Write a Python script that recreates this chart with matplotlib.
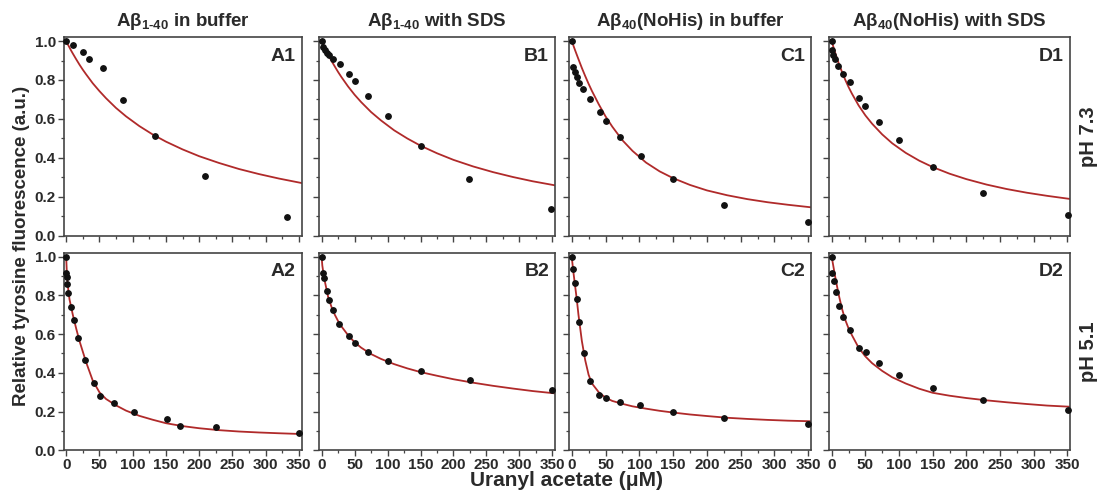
import matplotlib
matplotlib.use("Agg")
import matplotlib.pyplot as plt
from matplotlib.ticker import MultipleLocator

plt.rcParams['font.family'] = ['Liberation Sans', 'DejaVu Sans']
plt.rcParams['font.weight'] = 'bold'
plt.rcParams['mathtext.fontset'] = 'custom'
plt.rcParams['mathtext.rm'] = 'Liberation Sans:bold'
plt.rcParams['mathtext.it'] = 'Liberation Sans:bold'
plt.rcParams['mathtext.bf'] = 'Liberation Sans:bold'

# ---- data (uranyl acetate concentration in uM, relative fluorescence) ----
titles = ['Aβ$_{\\text{1-40}}$ in buffer', 'Aβ$_{\\text{1-40}}$ with SDS',
          'Aβ$_{\\text{40}}$(NoHis) in buffer', 'Aβ$_{\\text{40}}$(NoHis) with SDS']
row_labels = ['pH 7.3', 'pH 5.1']
panel_labels = [['A1', 'B1', 'C1', 'D1'], ['A2', 'B2', 'C2', 'D2']]

A1_x = [0, 11, 25, 35, 55, 85, 134, 209, 332]
A1_y = [1.0, 0.98, 0.945, 0.907, 0.863, 0.697, 0.512, 0.306, 0.094]
B1_x = [0, 2.5, 5, 8.5, 11.5, 17.5, 28, 41.5, 51, 71, 100, 150, 224, 348]
B1_y = [1.0, 0.97, 0.954, 0.94, 0.93, 0.909, 0.88, 0.83, 0.794, 0.72, 0.616, 0.462, 0.289, 0.135]
C1_x = [0, 2.5, 4.5, 7.5, 11.5, 17, 27.5, 41.5, 51, 71.5, 102, 150.5, 225, 350]
C1_y = [1.0, 0.868, 0.84, 0.813, 0.784, 0.755, 0.70, 0.636, 0.59, 0.508, 0.41, 0.292, 0.155, 0.071]
D1_x = [0, 1, 2.5, 5, 10, 17, 27, 40, 50, 70.5, 100, 150.5, 225.5, 351]
D1_y = [1.0, 0.952, 0.928, 0.906, 0.873, 0.832, 0.788, 0.708, 0.667, 0.584, 0.491, 0.351, 0.218, 0.105]

A2_x = [0, 0.3, 0.8, 1.5, 3.5, 7.5, 12, 18.5, 28.5, 41.5, 51, 71.5, 101.5, 151, 171.5, 226, 350]
A2_y = [1.0, 0.917, 0.897, 0.859, 0.811, 0.739, 0.671, 0.582, 0.465, 0.348, 0.282, 0.243, 0.199, 0.163, 0.124, 0.119, 0.091]
B2_x = [0, 1.5, 4, 7.5, 11, 17, 27, 41, 50.5, 70, 100.5, 150.5, 225, 350]
B2_y = [1.0, 0.917, 0.888, 0.824, 0.775, 0.723, 0.654, 0.592, 0.556, 0.508, 0.463, 0.411, 0.363, 0.31]
C2_x = [0, 1.5, 4.5, 7.5, 11.5, 17.5, 26.5, 40.5, 51, 71, 101, 150.5, 225.5, 350]
C2_y = [1.0, 0.936, 0.863, 0.78, 0.661, 0.501, 0.358, 0.286, 0.268, 0.249, 0.234, 0.196, 0.165, 0.136]
D2_x = [0, 0.6, 3, 6.5, 10.5, 16.5, 27, 41, 51, 71, 100.5, 151, 225.5, 351.5]
D2_y = [1.0, 0.917, 0.874, 0.817, 0.747, 0.686, 0.619, 0.526, 0.507, 0.452, 0.389, 0.32, 0.26, 0.208]

# fitted curves
fit_x = [0, 1, 2.5, 5, 7.5, 10, 15, 20, 25, 30, 40, 50, 60, 75, 90, 110, 130, 150,
         175, 200, 230, 260, 290, 320, 354]
A1_fit = [1.0, 0.993, 0.983, 0.967, 0.951, 0.936, 0.907, 0.879, 0.853, 0.829, 0.783, 0.743,
          0.706, 0.656, 0.613, 0.563, 0.520, 0.483, 0.443, 0.408, 0.373, 0.342, 0.316, 0.293, 0.270]
B1_fit = [1.0, 0.993, 0.982, 0.964, 0.946, 0.930, 0.898, 0.869, 0.841, 0.815, 0.767, 0.724,
          0.686, 0.635, 0.592, 0.541, 0.499, 0.462, 0.423, 0.389, 0.355, 0.326, 0.301, 0.279, 0.258]
C1_fit = [1.0, 0.991, 0.977, 0.953, 0.93, 0.907, 0.862, 0.82, 0.78, 0.743, 0.675, 0.613,
          0.56, 0.49, 0.435, 0.375, 0.33, 0.295, 0.26, 0.232, 0.207, 0.187, 0.171, 0.158, 0.145]
D1_fit = [1.0, 0.988, 0.970, 0.942, 0.915, 0.890, 0.844, 0.802, 0.764, 0.730, 0.669, 0.618,
          0.575, 0.520, 0.474, 0.425, 0.385, 0.352, 0.318, 0.290, 0.262, 0.239, 0.220, 0.204, 0.188]
A2_fit = [1.0, 0.92, 0.85, 0.78, 0.74, 0.70, 0.63, 0.565, 0.51, 0.455, 0.36, 0.30,
          0.265, 0.232, 0.205, 0.178, 0.158, 0.14, 0.125, 0.114, 0.104, 0.097, 0.092, 0.088, 0.084]
B2_fit = [1.0, 0.955, 0.92, 0.87, 0.83, 0.79, 0.74, 0.70, 0.667, 0.64, 0.595, 0.558,
          0.53, 0.497, 0.472, 0.445, 0.423, 0.404, 0.385, 0.367, 0.349, 0.333, 0.319, 0.306, 0.294]
C2_fit = [1.0, 0.968, 0.92, 0.85, 0.78, 0.70, 0.565, 0.465, 0.39, 0.345, 0.30, 0.272,
          0.255, 0.24, 0.227, 0.215, 0.204, 0.195, 0.185, 0.177, 0.168, 0.162, 0.157, 0.153, 0.15]
D2_fit = [1.0, 0.98, 0.95, 0.90, 0.855, 0.81, 0.735, 0.675, 0.63, 0.595, 0.53, 0.485,
          0.45, 0.41, 0.377, 0.345, 0.318, 0.297, 0.282, 0.27, 0.258, 0.248, 0.239, 0.231, 0.225]

points = [[(A1_x, A1_y), (B1_x, B1_y), (C1_x, C1_y), (D1_x, D1_y)],
          [(A2_x, A2_y), (B2_x, B2_y), (C2_x, C2_y), (D2_x, D2_y)]]
fits = [[A1_fit, B1_fit, C1_fit, D1_fit], [A2_fit, B2_fit, C2_fit, D2_fit]]

x_ticks = [0, 50, 100, 150, 200, 250, 300, 350]
y_ticks = [0.0, 0.2, 0.4, 0.6, 0.8, 1.0]

# ---- layout (pixels) ----
W, H = 1102, 495
fig = plt.figure(figsize=(W / 100, H / 100), dpi=100)
cols_px = [(63.5, 301.5), (319, 555), (569, 811), (829, 1070)]
rows_px = [(37.2, 235.5), (252.8, 450.3)]

TXT = '#2a2a2a'
SPINE = '#444444'
RED = '#b02a2a'

for r, (top, bot) in enumerate(rows_px):
    for c, (left, right) in enumerate(cols_px):
        ax = fig.add_axes([left / W, 1 - bot / H, (right - left) / W, (bot - top) / H])
        px, py = points[r][c]
        ax.plot(fit_x, fits[r][c], color=RED, lw=1.3, zorder=2, solid_joinstyle='round')
        ax.plot(px, py, 'o', color='#111111', ms=3.9, zorder=3, clip_on=False)
        ax.set_xlim(-4, 354)
        ax.set_ylim(0, 1.02)
        ax.set_xticks(x_ticks)
        ax.set_yticks(y_ticks)
        ax.xaxis.set_minor_locator(MultipleLocator(25))
        ax.yaxis.set_minor_locator(MultipleLocator(0.1))
        ax.tick_params(which='major', direction='out', length=4, width=1.0, color=SPINE,
                       labelsize=11, labelcolor=TXT, pad=1.5)
        ax.tick_params(which='minor', direction='out', length=2.5, width=0.9, color=SPINE)
        if r == 0:
            ax.tick_params(labelbottom=False)
        if c != 0:
            ax.tick_params(labelleft=False)
        else:
            ax.set_yticklabels([f'{v:.1f}' for v in y_ticks])
        for s in ax.spines.values():
            s.set_color(SPINE)
            s.set_linewidth(1.2)
        ax.text(0.975, 0.905, panel_labels[r][c], transform=ax.transAxes, ha='right',
                va='center', fontsize=14, fontweight='bold', color=TXT)
        if r == 0:
            fig.text((left + right) / 2 / W, 1 - 21 / H, titles[c], ha='center', va='center',
                     fontsize=13.5, fontweight='bold', color=TXT)
    fig.text(1088 / W, 1 - (top + bot) / 2 / H, row_labels[r], rotation=90, ha='center',
             va='center', fontsize=14.5, fontweight='bold', color=TXT)

fig.text(22 / W, 1 - 246 / H, 'Relative tyrosine fluorescence (a.u.)', rotation=90,
         ha='center', va='center', fontsize=13.5, fontweight='bold', color=TXT)
fig.text(567 / W, 1 - 481 / H, 'Uranyl acetate (μM)', ha='center', va='center',
         fontsize=15, fontweight='bold', color=TXT)

fig.savefig('out.png', dpi=100, facecolor='white')
